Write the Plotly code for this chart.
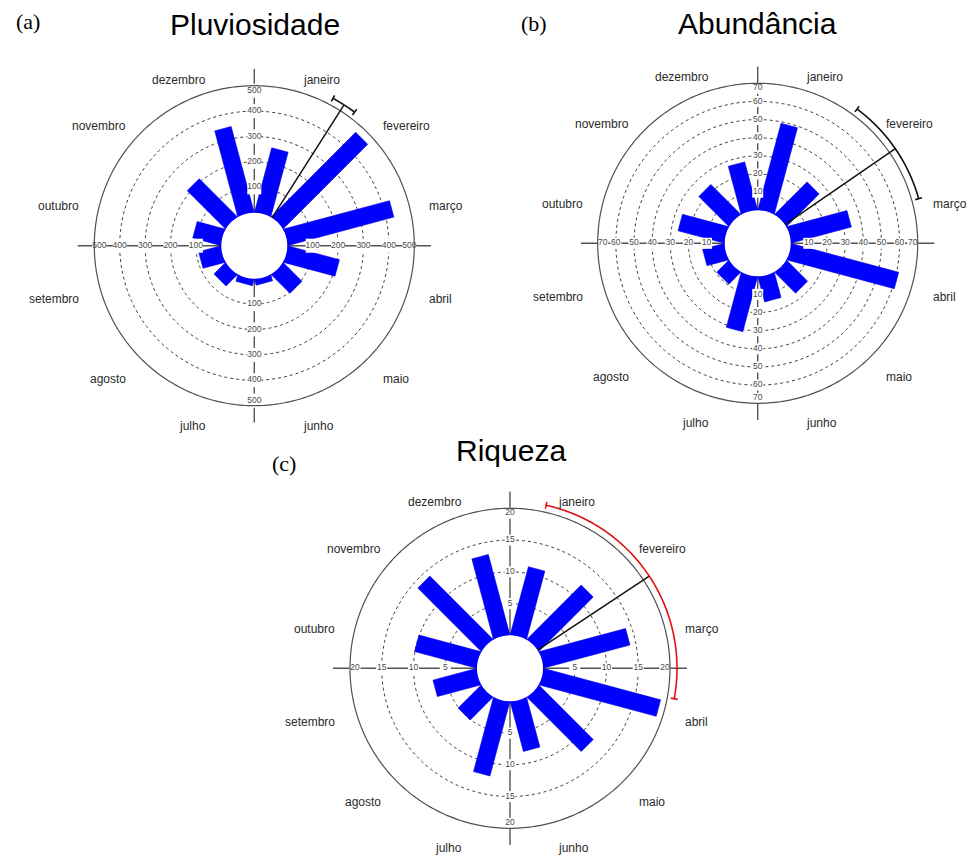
import numpy as np
import plotly.graph_objects as go

# ---- data -------------------------------------------------------------
meses = ["janeiro", "fevereiro", "março", "abril", "maio", "junho",
         "julho", "agosto", "setembro", "outubro", "novembro", "dezembro"]
angulos_meses = [15, 45, 75, 105, 135, 165, 195, 225, 255, 285, 315, 345]

pluviosidade = [260, 468, 430, 208, 102, 22, 24, 61, 88, 112, 210, 347]
abundancia = [49, 25, 34, 61, 16, 14, 31, 9, 12, 26, 23, 27]
riqueza = [11, 12, 14, 19, 12, 8, 12, 5, 7, 10, 14, 13]

ticks_pluv = [100, 200, 300, 400, 500]
ticks_abund = [10, 20, 30, 40, 50, 60, 70]
ticks_riq = [5, 10, 15, 20]

# mean vector direction and half-width of its confidence interval (degrees)
vetor_pluv = (32.5, 4.4)
vetor_abund = (55.5, 19.0)
vetor_riq = (56.5, 44.0)

# ---- geometry (pixels) ------------------------------------------------
W, H_FIG = 967, 856
HOLE_PX = 33.0     # radius of the white centre
RING_PX = 160.0    # radius of the outer solid circle (last tick)
EDGE_PX = 177.0    # end of the cross-hair axes
BAR_HALF_PX = 8.5  # half width of the rectangular bars
VEC_PX = 167.0     # length of the mean vector
CAP_PX = 3.5       # half length of the end caps of the CI arc
MONTH_R_PX = 179.0  # distance of the month names from the centre
MONTH_DY_PX = 7.0   # downward nudge of the month names

BLUE = "#0000ff"
GRID = "#3a3a3a"
AXIS = "#555555"
LABEL = "#4a4a4a"
FONT = "Liberation Sans, Arial"

panels = [
    dict(key="polar", title="Pluviosidade", tag="(a)", cx=254.3, cy=245.7,
         values=pluviosidade, ticks=ticks_pluv, vec=vetor_pluv, ci_color="#111111",
         title_xy=(255, 24), tag_xy=(27.5, 21.5), marker=14),
    dict(key="polar2", title="Abundância", tag="(b)", cx=757.7, cy=243.3,
         values=abundancia, ticks=ticks_abund, vec=vetor_abund, ci_color="#111111",
         title_xy=(757, 23), tag_xy=(534, 23.5), marker=11),
    dict(key="polar3", title="Riqueza", tag="(c)", cx=510.0, cy=668.3,
         values=riqueza, ticks=ticks_riq, vec=vetor_riq, ci_color="#e01010",
         title_xy=(511, 450), tag_xy=(284, 463), marker=11),
]

fig = go.Figure()
annotations = []
layout_polars = {}

for p in panels:
    sub = p["key"]
    rmax = p["ticks"][-1]
    upx = rmax / (RING_PX - HOLE_PX)          # data units per pixel
    r_edge = (EDGE_PX - HOLE_PX) * upx         # radial range end
    h_u = HOLE_PX * upx                        # hole radius in data units
    w_u = BAR_HALF_PX * upx

    full = np.linspace(0, 360, 361)

    # cross-hair axes
    for ang in (0, 90, 180, 270):
        fig.add_trace(go.Scatterpolar(
            r=[0, r_edge], theta=[ang, ang], mode="lines", subplot=sub,
            line=dict(color=AXIS, width=1.4), hoverinfo="skip", showlegend=False))

    # dotted inner circles
    for t in p["ticks"][:-1]:
        fig.add_trace(go.Scatterpolar(
            r=[t] * len(full), theta=full, mode="lines", subplot=sub,
            line=dict(color=GRID, width=1, dash="dot"), hoverinfo="skip",
            showlegend=False))

    # rectangular bars centred on each month
    for ang, v in zip(angulos_meses, p["values"]):
        d_out = h_u + v
        rho_out = np.hypot(d_out, w_u)
        a_out = np.degrees(np.arctan2(w_u, d_out))
        a_in = np.degrees(np.arcsin(min(w_u / h_u, 1.0)))
        arc = np.linspace(a_in, -a_in, 15)
        r_poly = [rho_out - h_u, rho_out - h_u] + [0.0] * len(arc) + [rho_out - h_u]
        t_poly = [ang - a_out, ang + a_out] + list(ang + arc) + [ang - a_out]
        fig.add_trace(go.Scatterpolar(
            r=r_poly, theta=t_poly, mode="lines", fill="toself", subplot=sub,
            fillcolor=BLUE, line=dict(color="#0000d8", width=0.6),
            hoverinfo="skip", showlegend=False))

    # tick labels along the four half-axes, on a white patch
    lab_r, lab_t, lab_txt = [], [], []
    for ang in (0, 90, 180, 270):
        for t in p["ticks"]:
            rr = t if t != rmax else t - 5 * upx
            lab_r.append(rr)
            lab_t.append(ang)
            lab_txt.append(str(t))
    fig.add_trace(go.Scatterpolar(
        r=lab_r, theta=lab_t, text=lab_txt, mode="markers+text", subplot=sub,
        textposition="middle center", cliponaxis=False,
        marker=dict(symbol="square", size=p["marker"], color="white",
                    line=dict(width=0)),
        textfont=dict(family=FONT, size=8.5, color=LABEL),
        hoverinfo="skip", showlegend=False))

    # outer solid circle
    fig.add_trace(go.Scatterpolar(
        r=[rmax] * len(full), theta=full, mode="lines", subplot=sub,
        line=dict(color="#505050", width=1.2), hoverinfo="skip", showlegend=False))

    # mean vector with its confidence arc
    m_ang, ci = p["vec"]
    r_vec = (VEC_PX - HOLE_PX) * upx
    fig.add_trace(go.Scatterpolar(
        r=[0, r_vec], theta=[m_ang, m_ang], mode="lines", subplot=sub,
        line=dict(color="#111111", width=1.5), hoverinfo="skip", showlegend=False))
    arc_t = np.linspace(m_ang - ci, m_ang + ci, 121)
    cap = CAP_PX * upx
    ci_r = [r_vec - cap, r_vec + cap, None] + [r_vec] * len(arc_t) + \
           [None, r_vec - cap, r_vec + cap]
    ci_t = [m_ang - ci, m_ang - ci, None] + list(arc_t) + \
           [None, m_ang + ci, m_ang + ci]
    fig.add_trace(go.Scatterpolar(
        r=ci_r, theta=ci_t, mode="lines", subplot=sub,
        line=dict(color=p["ci_color"], width=1.6), hoverinfo="skip",
        showlegend=False))

    layout_polars[sub] = dict(
        domain=dict(x=[(p["cx"] - EDGE_PX) / W, (p["cx"] + EDGE_PX) / W],
                    y=[1 - (p["cy"] + EDGE_PX) / H_FIG, 1 - (p["cy"] - EDGE_PX) / H_FIG]),
        hole=HOLE_PX / EDGE_PX,
        bgcolor="white",
        radialaxis=dict(range=[0, r_edge], showline=False, showgrid=False,
                        showticklabels=False, ticks=""),
        angularaxis=dict(rotation=90, direction="clockwise", tickmode="array",
                         tickvals=angulos_meses, showticklabels=False,
                         showline=False, showgrid=False, ticks=""),
    )

    # month names around the circle
    for ang, nome in zip(angulos_meses, meses):
        rad = np.radians(ang)
        x_px = p["cx"] + MONTH_R_PX * np.sin(rad)
        y_px = p["cy"] - MONTH_R_PX * np.cos(rad) + MONTH_DY_PX
        annotations.append(dict(
            text=nome, x=x_px / W, y=1 - y_px / H_FIG, xref="paper", yref="paper",
            xanchor="left" if ang < 180 else "right", yanchor="middle",
            showarrow=False, font=dict(family=FONT, size=12, color="#2a2a2a")))

    annotations.append(dict(
        text=p["title"], x=p["title_xy"][0] / W, y=1 - p["title_xy"][1] / H_FIG,
        xref="paper", yref="paper", xanchor="center", yanchor="middle",
        showarrow=False, font=dict(family=FONT, size=30, color="black")))
    annotations.append(dict(
        text=p["tag"], x=p["tag_xy"][0] / W, y=1 - p["tag_xy"][1] / H_FIG,
        xref="paper", yref="paper", xanchor="center", yanchor="middle",
        showarrow=False, font=dict(family="Liberation Serif, Times New Roman",
                                   size=22, color="black")))

fig.update_layout(
    width=W, height=H_FIG, autosize=False,
    margin=dict(l=0, r=0, t=0, b=0),
    paper_bgcolor="white", plot_bgcolor="white",
    showlegend=False, hovermode=False,
    annotations=annotations,
    **layout_polars,
)

fig.write_html("out.html")
